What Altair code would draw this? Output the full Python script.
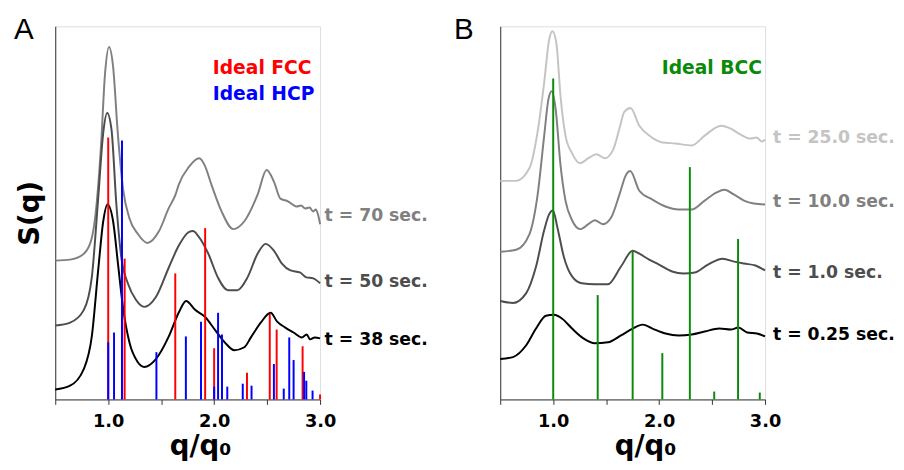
import altair as alt
import pandas as pd

# ---------------- data ----------------
# Panel A: measured S(q) curves (arbitrary units)
A70_q = [0.50, 0.64, 0.77, 0.845, 0.89, 0.93, 0.97, 1.008, 1.046, 1.09, 1.14, 1.20, 1.28, 1.37, 1.48, 1.57, 1.635,
         1.665, 1.76, 1.86, 1.91, 1.975, 2.07, 2.18, 2.285, 2.41, 2.495, 2.565, 2.625, 2.70, 2.74, 2.78, 2.82, 2.86,
         2.90, 2.935, 2.96, 2.98, 3.0]
A70_s = [141, 142, 148, 164, 198, 254, 331, 358, 338, 271, 214, 184, 168, 159, 171, 194, 208,
         218, 236, 245, 238, 218, 191, 173, 181, 208, 233, 221, 204, 201, 198, 196, 197, 194,
         195, 191, 193, 188, 178]
A50_q = [0.50, 0.64, 0.77, 0.845, 0.905, 0.953, 0.99, 1.031, 1.077, 1.124, 1.185, 1.263, 1.34, 1.45, 1.572, 1.665,
         1.76, 1.80, 1.85, 1.945, 2.035, 2.13, 2.22, 2.315, 2.41, 2.486, 2.565, 2.64, 2.72, 2.81, 2.87, 2.935, 3.0]
A50_s = [75, 78, 91, 124, 204, 271, 291, 274, 198, 144, 118, 101, 94, 104, 134, 156,
         170, 171, 166, 148, 124, 111, 111, 124, 148, 158, 151, 138, 131, 129, 124, 123, 118]
A38_q = [0.50, 0.64, 0.77, 0.845, 0.905, 0.953, 0.993, 1.046, 1.092, 1.139, 1.20, 1.278, 1.34, 1.45, 1.572, 1.665,
         1.735, 1.82, 1.913, 2.006, 2.10, 2.19, 2.285, 2.347, 2.44, 2.533, 2.595, 2.672, 2.75, 2.827, 2.874, 2.905,
         2.95, 3.0]
A38_s = [10, 14, 31, 64, 131, 181, 198, 181, 138, 94, 58, 38, 33, 41, 64, 88,
         100, 91, 84, 71, 58, 50, 53, 63, 78, 88, 79, 73, 68, 63, 66, 61,
         63, 62]

# Panel A: ideal peak positions and heights
FCC_q = [1.0, 1.155, 1.633, 1.915, 2.0, 2.31, 2.525, 2.59, 2.835, 3.0]
FCC_s = [266, 143, 128, 174, 52, 27, 87, 71, 54, 5]
HCP_q = [1.0, 1.055, 1.13, 1.455, 1.733, 1.876, 2.0, 2.037, 2.074, 2.124, 2.27, 2.353, 2.564, 2.657, 2.709,
         2.75, 2.849, 2.87, 2.929]
HCP_s = [58, 68, 263, 48, 64, 79, 13, 88, 66, 13, 16, 14, 36, 11, 63, 40, 28, 19, 9]

# Panel B: measured S(q) curves
B25_q = [0.50, 0.65, 0.776, 0.853, 0.915, 0.961, 0.993, 1.03, 1.069, 1.116, 1.178, 1.254, 1.332, 1.409, 1.486,
         1.563, 1.625, 1.671, 1.73, 1.813, 1.906, 2.03, 2.153, 2.307, 2.43, 2.585, 2.677, 2.77, 2.863, 2.92, 2.97, 3.0]
B25_s = [222, 222, 235, 272, 322, 365, 374, 362, 308, 268, 250, 240, 245, 249, 245,
         253, 275, 292, 296, 278, 268, 261, 260, 258, 268, 278, 275, 269, 265, 266, 262, 264]
B10_q = [0.50, 0.65, 0.776, 0.853, 0.915, 0.955, 0.986, 1.023, 1.069, 1.116, 1.178, 1.254, 1.332, 1.393, 1.47,
         1.548, 1.625, 1.687, 1.727, 1.813, 1.937, 2.06, 2.183, 2.307, 2.43, 2.539, 2.616, 2.708, 2.801, 2.894, 3.0]
B10_s = [150, 152, 168, 208, 268, 305, 313, 295, 238, 202, 182, 173, 178, 182, 178,
         185, 208, 228, 232, 212, 203, 196, 193, 193, 202, 210, 213, 208, 202, 199, 198]
B1_q = [0.50, 0.62, 0.745, 0.838, 0.915, 0.961, 0.998, 1.039, 1.10, 1.178, 1.27, 1.393, 1.516, 1.64, 1.75, 1.813,
        1.906, 1.998, 2.122, 2.23, 2.338, 2.461, 2.60, 2.708, 2.801, 2.909, 3.0]
B1_s = [100, 98, 108, 135, 172, 188, 192, 175, 145, 125, 118, 117, 117, 135, 151, 148,
        142, 137, 130, 128, 129, 137, 143, 140, 138, 136, 131]
B025_q = [0.50, 0.62, 0.745, 0.838, 0.931, 1.007, 1.085, 1.178, 1.285, 1.393, 1.516, 1.64, 1.75, 1.844, 1.937,
          2.06, 2.183, 2.307, 2.43, 2.569, 2.677, 2.748, 2.831, 2.924, 3.0]
B025_s = [41, 43, 55, 72, 85, 86, 82, 72, 62, 57, 58, 65, 72, 76, 72,
          67, 65, 66, 69, 72, 71, 73, 68, 67, 64]

# Panel B: ideal BCC peaks
BCC_q = [1.0, 1.42, 1.75, 2.03, 2.29, 2.52, 2.745, 2.95]
BCC_s = [326, 106, 151, 47, 236, 8, 163, 7]

# curve labels and their heights
A_labels = ["t = 70 sec.", "t = 50 sec.", "t = 38 sec."]
A_label_s = [186, 119, 60]
B_labels = ["t = 25.0 sec.", "t = 10.0 sec.", "t = 1.0 sec.", "t = 0.25 sec."]
B_label_s = [265, 200, 128, 65]

TICKS = [0.5, 1.0, 1.5, 2.0, 2.5, 3.0]

# ---------------- styling ----------------
FONT = "DejaVu Sans"
PW, PH = 269, 379
A_colors = ["#808080", "#4d4d4d", "#000000"]
B_colors = ["#c4c4c4", "#808080", "#4d4d4d", "#000000"]


def x_enc():
    return alt.X("q:Q", scale=alt.Scale(domain=[0.5, 3.0], nice=False, zero=False),
                 axis=alt.Axis(values=TICKS, title="q/q₀", grid=False, tickSize=5, tickColor="#333",
                               domainColor="#333", labelExpr="datum.value % 1 == 0 ? format(datum.value, '.1f') : ''",
                               labelFont=FONT, labelFontSize=18, labelFontWeight="bold", labelColor="#000",
                               labelPadding=8, titleFont=FONT, titleFontSize=28, titleFontWeight="bold",
                               titleColor="#000", titlePadding=3, titleX=147, labelFlush=False))


def y_enc(title):
    ax = dict(grid=False, ticks=False, labels=False, domainColor="#333")
    if title:
        ax.update(title=title, titleFont=FONT, titleFontSize=28, titleFontWeight="bold", titleColor="#000",
                  titlePadding=11)
    else:
        ax.update(title=None)
    return alt.Y("S:Q", scale=alt.Scale(domain=[0, 379], nice=False), axis=alt.Axis(**ax))


def curve(q, s, color, ytitle):
    return alt.Chart(pd.DataFrame({"q": q, "S": s})).mark_line(
        color=color, strokeWidth=2, interpolate="monotone").encode(x=x_enc(), y=y_enc(ytitle))


def peaks(q, s, color, ytitle):
    df = pd.DataFrame({"q": q, "S": s, "base": [0] * len(q)})
    return alt.Chart(df).mark_rule(color=color, strokeWidth=2).encode(
        x=x_enc(), y=y_enc(ytitle), y2="base:Q")


def labels(texts, ys, colors, dx, ytitle):
    df = pd.DataFrame({"q": [3.0] * len(texts), "S": ys, "label": texts, "c": colors})
    return alt.Chart(df).mark_text(align="left", baseline="middle", dx=dx, font=FONT, fontSize=17.5,
                                   fontWeight="bold").encode(
        x=x_enc(), y=y_enc(ytitle), text="label:N", color=alt.Color("c:N", scale=None))


def note(text, color, x, y, size=19, weight="bold", font=FONT):
    return alt.Chart(pd.DataFrame({"t": [text]})).mark_text(
        align="left", baseline="alphabetic", font=font, fontSize=size, fontWeight=weight, color=color
    ).encode(text="t:N", x=alt.value(x), y=alt.value(y))


panelA = alt.layer(
    curve(A70_q, A70_s, A_colors[0], "S(q)"),
    curve(A50_q, A50_s, A_colors[1], "S(q)"),
    curve(A38_q, A38_s, A_colors[2], "S(q)"),
    peaks(FCC_q, FCC_s, "#ff0000", "S(q)"),
    peaks(HCP_q, HCP_s, "#0000ff", "S(q)"),
    labels(A_labels, A_label_s, A_colors, 4.5, "S(q)"),
    note("Ideal FCC", "#ff0000", 160, 48),
    note("Ideal HCP", "#0000ff", 160, 75),
    note("A", "#000", -42, 13, size=30, weight="normal", font="Liberation Sans"),
).properties(width=PW, height=PH)

panelB = alt.layer(
    curve(B25_q, B25_s, B_colors[0], None),
    curve(B10_q, B10_s, B_colors[1], None),
    curve(B1_q, B1_s, B_colors[2], None),
    curve(B025_q, B025_s, B_colors[3], None),
    peaks(BCC_q, BCC_s, "#0a8a0a", None),
    labels(B_labels, B_label_s, B_colors, 8, None),
    note("Ideal BCC", "#0a8a0a", 164, 48),
    note("B", "#000", -47, 13, size=30, weight="normal", font="Liberation Sans"),
).properties(width=PW, height=PH)

chart = alt.hconcat(panelA, panelB, spacing=25).properties(
    padding={"left": 5, "top": 3, "right": 0, "bottom": 0}
).configure_view(stroke=None).configure(background="white")

chart.save("out.html", embed_options={"renderer": "svg", "actions": False})
